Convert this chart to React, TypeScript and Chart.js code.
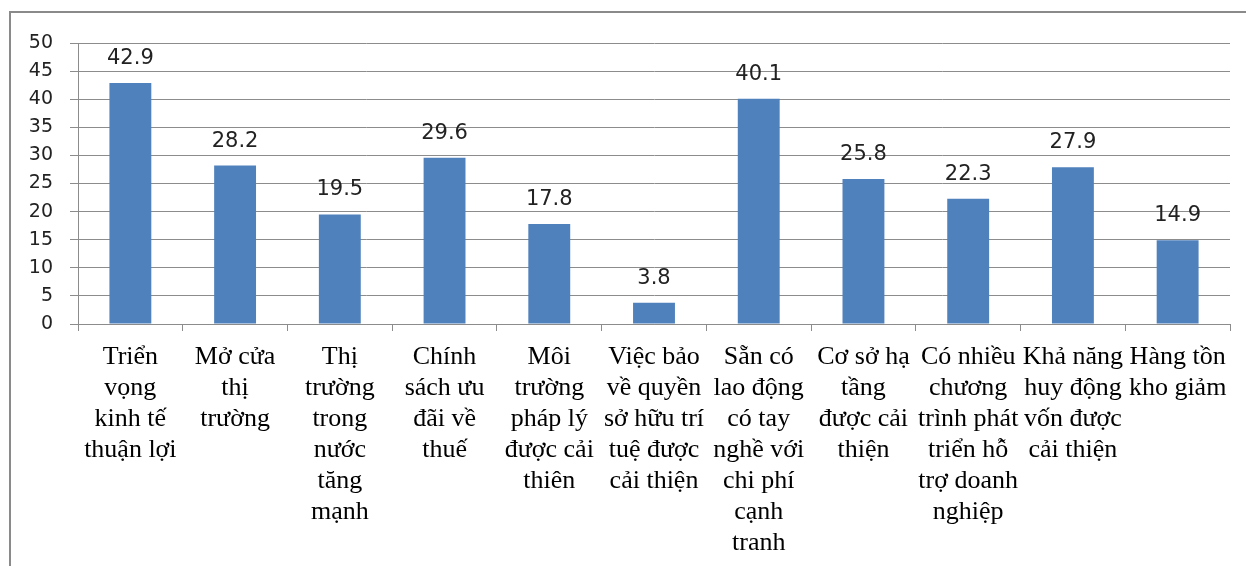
import React, { useEffect, useRef } from "react";
import { Chart, registerables } from "chart.js";

Chart.register(...registerables);

// Category labels, split into lines the way they wrap under each bar
const categories: string[][] = [
  ["Triển", "vọng", "kinh tế", "thuận lợi"],
  ["Mở cửa", "thị", "trường"],
  ["Thị", "trường", "trong", "nước", "tăng", "mạnh"],
  ["Chính", "sách ưu", "đãi về", "thuế"],
  ["Môi", "trường", "pháp lý", "được cải", "thiên"],
  ["Việc bảo", "về quyền", "sở hữu trí", "tuệ được", "cải thiện"],
  ["Sẵn có", "lao động", "có tay", "nghề với", "chi phí", "cạnh", "tranh"],
  ["Cơ sở hạ", "tầng", "được cải", "thiện"],
  ["Có nhiều", "chương", "trình phát", "triển hỗ", "trợ doanh", "nghiệp"],
  ["Khả năng", "huy động", "vốn được", "cải thiện"],
  ["Hàng tồn", "kho giảm"],
];

const values: number[] = [42.9, 28.2, 19.5, 29.6, 17.8, 3.8, 40.1, 25.8, 22.3, 27.9, 14.9];

const yTicks: number[] = [0, 5, 10, 15, 20, 25, 30, 35, 40, 45, 50];

const BAR_COLOR = "#4F81BD";
const GRID_COLOR = "#8c8c8c";

// Writes each bar's value above it
const valueLabels = {
  id: "valueLabels",
  afterDatasetsDraw(chart: any) {
    const ctx = chart.ctx;
    const meta = chart.getDatasetMeta(0);
    ctx.save();
    ctx.font = "21px 'DejaVu Sans', sans-serif";
    ctx.fillStyle = "#222";
    ctx.textAlign = "center";
    ctx.textBaseline = "alphabetic";
    meta.data.forEach((bar: any, i: number) => {
      ctx.fillText(values[i].toFixed(1), bar.x, bar.y - 19);
    });
    ctx.restore();
  },
};

export default function App() {
  const canvasRef = useRef<HTMLCanvasElement | null>(null);

  useEffect(() => {
    if (!canvasRef.current) return;
    const chart = new Chart(canvasRef.current, {
      type: "bar",
      data: {
        labels: categories,
        datasets: [
          {
            data: values,
            backgroundColor: BAR_COLOR,
            borderWidth: 0,
            barPercentage: 0.4,
            categoryPercentage: 1,
          },
        ],
      },
      options: {
        responsive: false,
        animation: false,
        layout: { padding: { left: 0, top: 43, right: 16, bottom: 0 } },
        plugins: {
          legend: { display: false },
          tooltip: { enabled: false },
        },
        scales: {
          x: {
            offset: true,
            grid: {
              offset: true,
              drawOnChartArea: false,
              drawTicks: true,
              tickLength: 7,
              color: GRID_COLOR,
            },
            border: { color: GRID_COLOR, width: 1 },
            ticks: {
              autoSkip: false,
              maxRotation: 0,
              minRotation: 0,
              padding: 11,
              color: "#000",
              font: { family: "'Liberation Serif', serif", size: 26, lineHeight: "31px" },
            },
            afterFit(scale: any) {
              scale.height = 566 - 324;
            },
          },
          y: {
            min: 0,
            max: 50,
            afterBuildTicks(scale: any) {
              scale.ticks = yTicks.map((v) => ({ value: v }));
            },
            grid: {
              color: GRID_COLOR,
              tickLength: 8,
              drawTicks: true,
            },
            border: { color: GRID_COLOR, width: 1 },
            ticks: {
              padding: 17,
              color: "#222",
              font: { family: "'DejaVu Sans', sans-serif", size: 19 },
            },
            afterFit(scale: any) {
              scale.width = 78;
            },
          },
        },
      },
      plugins: [valueLabels],
    });
    return () => chart.destroy();
  }, []);

  return (
    <div
      style={{
        position: "fixed",
        left: 0,
        top: 0,
        width: 1246,
        height: 566,
        background: "#fff",
        overflow: "hidden",
      }}
    >
      <div
        style={{
          position: "absolute",
          left: 9,
          top: 11,
          right: -4,
          bottom: -4,
          borderLeft: "2px solid #8a8a8a",
          borderTop: "2px solid #8a8a8a",
        }}
      />
      <canvas
        ref={canvasRef}
        width={1246}
        height={566}
        style={{ position: "absolute", left: 0, top: 0 }}
      />
    </div>
  );
}
